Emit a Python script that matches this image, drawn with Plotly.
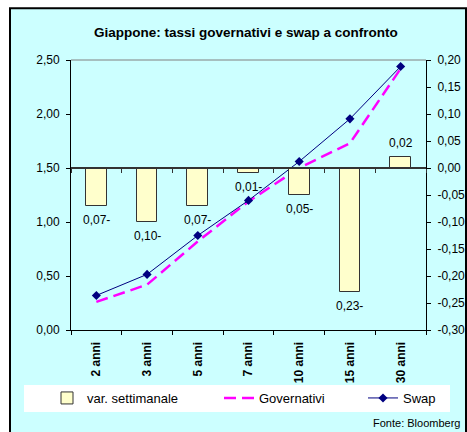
import plotly.graph_objects as go

# Maturities and weekly change of the government yields
scadenze = ["2 anni", "3 anni", "5 anni", "7 anni", "10 anni", "15 anni", "30 anni"]
var_settimanale = [-0.07, -0.10, -0.07, -0.01, -0.05, -0.23, 0.02]
# Yield curves (left axis, %)
governativi = [0.26, 0.42, 0.82, 1.19, 1.50, 1.73, 2.42]
swap = [0.32, 0.515, 0.875, 1.20, 1.56, 1.955, 2.44]

# Axis ticks
tick_sx = [0.0, 0.5, 1.0, 1.5, 2.0, 2.5]
tick_dx = [-0.30, -0.25, -0.20, -0.15, -0.10, -0.05, 0.00, 0.05, 0.10, 0.15, 0.20]

FONT = "Liberation Sans, Arial, sans-serif"
BG = "#CCFFFF"


def fmt(v):
    return f"{v:.2f}".replace(".", ",")


def fmt_label(v):
    s = f"{abs(v):.2f}".replace(".", ",")
    return s + "-" if v < 0 else s


W, H = 467, 432
L, R, T, B = 71, 41, 60, 102
PW, PH = W - L - R, H - T - B


def px(x):
    return (x - L) / PW


def py(y):
    return (H - B - y) / PH


fig = go.Figure()

fig.add_trace(go.Bar(
    x=scadenze, y=var_settimanale, xaxis="x2", yaxis="y2",
    name="var. settimanale", width=0.41, legend="legend",
    marker=dict(color="#FFFFCC", line=dict(color="#333333", width=1)),
))
fig.add_trace(go.Scatter(
    x=scadenze, y=governativi, name="Governativi", mode="lines", legend="legend2",
    line=dict(color="#FF00FF", width=2.5, dash="12px,6px"),
))
fig.add_trace(go.Scatter(
    x=scadenze, y=swap, name="Swap", mode="lines+markers", legend="legend3",
    line=dict(color="#000080", width=1),
    marker=dict(symbol="diamond", size=7, color="#000080"), cliponaxis=False,
))

axis_common = dict(showgrid=False, zeroline=False, showline=True, linecolor="#000000",
                   linewidth=1, ticks="outside", ticklen=4, tickcolor="#000000",
                   automargin=False)
tick_font = dict(family=FONT, size=12, color="#000000")


def legend_box(x_left):
    return dict(orientation="h", x=px(x_left), y=py(398), xanchor="left", yanchor="middle",
                bgcolor="rgba(0,0,0,0)", font=dict(family=FONT, size=13, color="#000000"))


# Value labels of the weekly-change bars, just past the end of each bar
bar_labels = [
    dict(text=fmt_label(v), x=c, y=v, xref="x2", yref="y2", showarrow=False,
         xanchor="center", yanchor="middle", yshift=14 if v > 0 else -14,
         font=dict(family=FONT, size=12, color="#000000"))
    for c, v in zip(scadenze, var_settimanale)
]

fig.update_layout(
    width=W, height=H,
    margin=dict(l=L, r=R, t=T, b=B, autoexpand=False),
    paper_bgcolor="#FFFFFF", plot_bgcolor="rgba(0,0,0,0)",
    showlegend=True,
    bargap=0,
    xaxis=dict(**axis_common, type="category", range=[-0.5, 6.5], tickson="boundaries",
               tickangle=-90, ticklabelstandoff=6,
               tickfont=dict(**tick_font, weight="bold")),
    xaxis2=dict(showgrid=False, zeroline=False, showline=True, linecolor="#333333",
                linewidth=1.5, ticks="outside", ticklen=4, tickcolor="#333333",
                automargin=False,
                type="category", overlaying="x", anchor="free", position=py(168),
                range=[-0.5, 6.5], tickson="boundaries", showticklabels=False),
    yaxis=dict(**axis_common, range=[0, 2.5], tickvals=tick_sx, ticklabelstandoff=4,
               ticktext=[fmt(v) for v in tick_sx], tickfont=tick_font),
    yaxis2=dict(**axis_common, range=[-0.3, 0.2], overlaying="y", side="right",
                ticklabelstandoff=4,
                tickvals=tick_dx, ticktext=[fmt(v) for v in tick_dx], tickfont=tick_font),
    legend=legend_box(47),
    legend2=legend_box(219),
    legend3=legend_box(363),
    shapes=[
        dict(type="rect", xref="paper", yref="paper", layer="below",
             x0=px(10), x1=px(466), y0=py(445), y1=py(8.3),
             fillcolor=BG, line=dict(color="#000000", width=2)),
        dict(type="rect", xref="paper", yref="paper", layer="below",
             x0=px(24), x1=px(450), y0=py(412), y1=py(385),
             fillcolor="#FFFFFF", line=dict(width=0)),
        dict(type="line", xref="paper", yref="paper", x0=0, x1=1, y0=1, y1=1,
             line=dict(color="#808080", width=1)),
    ],
    annotations=bar_labels + [
        dict(text="<b>Giappone: tassi governativi e swap a confronto</b>",
             xref="paper", yref="paper", x=px(245.5), y=py(33), showarrow=False,
             xanchor="center", yanchor="middle",
             font=dict(family=FONT, size=13.5, color="#000000")),
        dict(text="Fonte: Bloomberg", xref="paper", yref="paper", x=px(462), y=py(423),
             showarrow=False, xanchor="right", yanchor="middle",
             font=dict(family=FONT, size=11, color="#000000")),
    ],
)

fig.write_html("out.html")
